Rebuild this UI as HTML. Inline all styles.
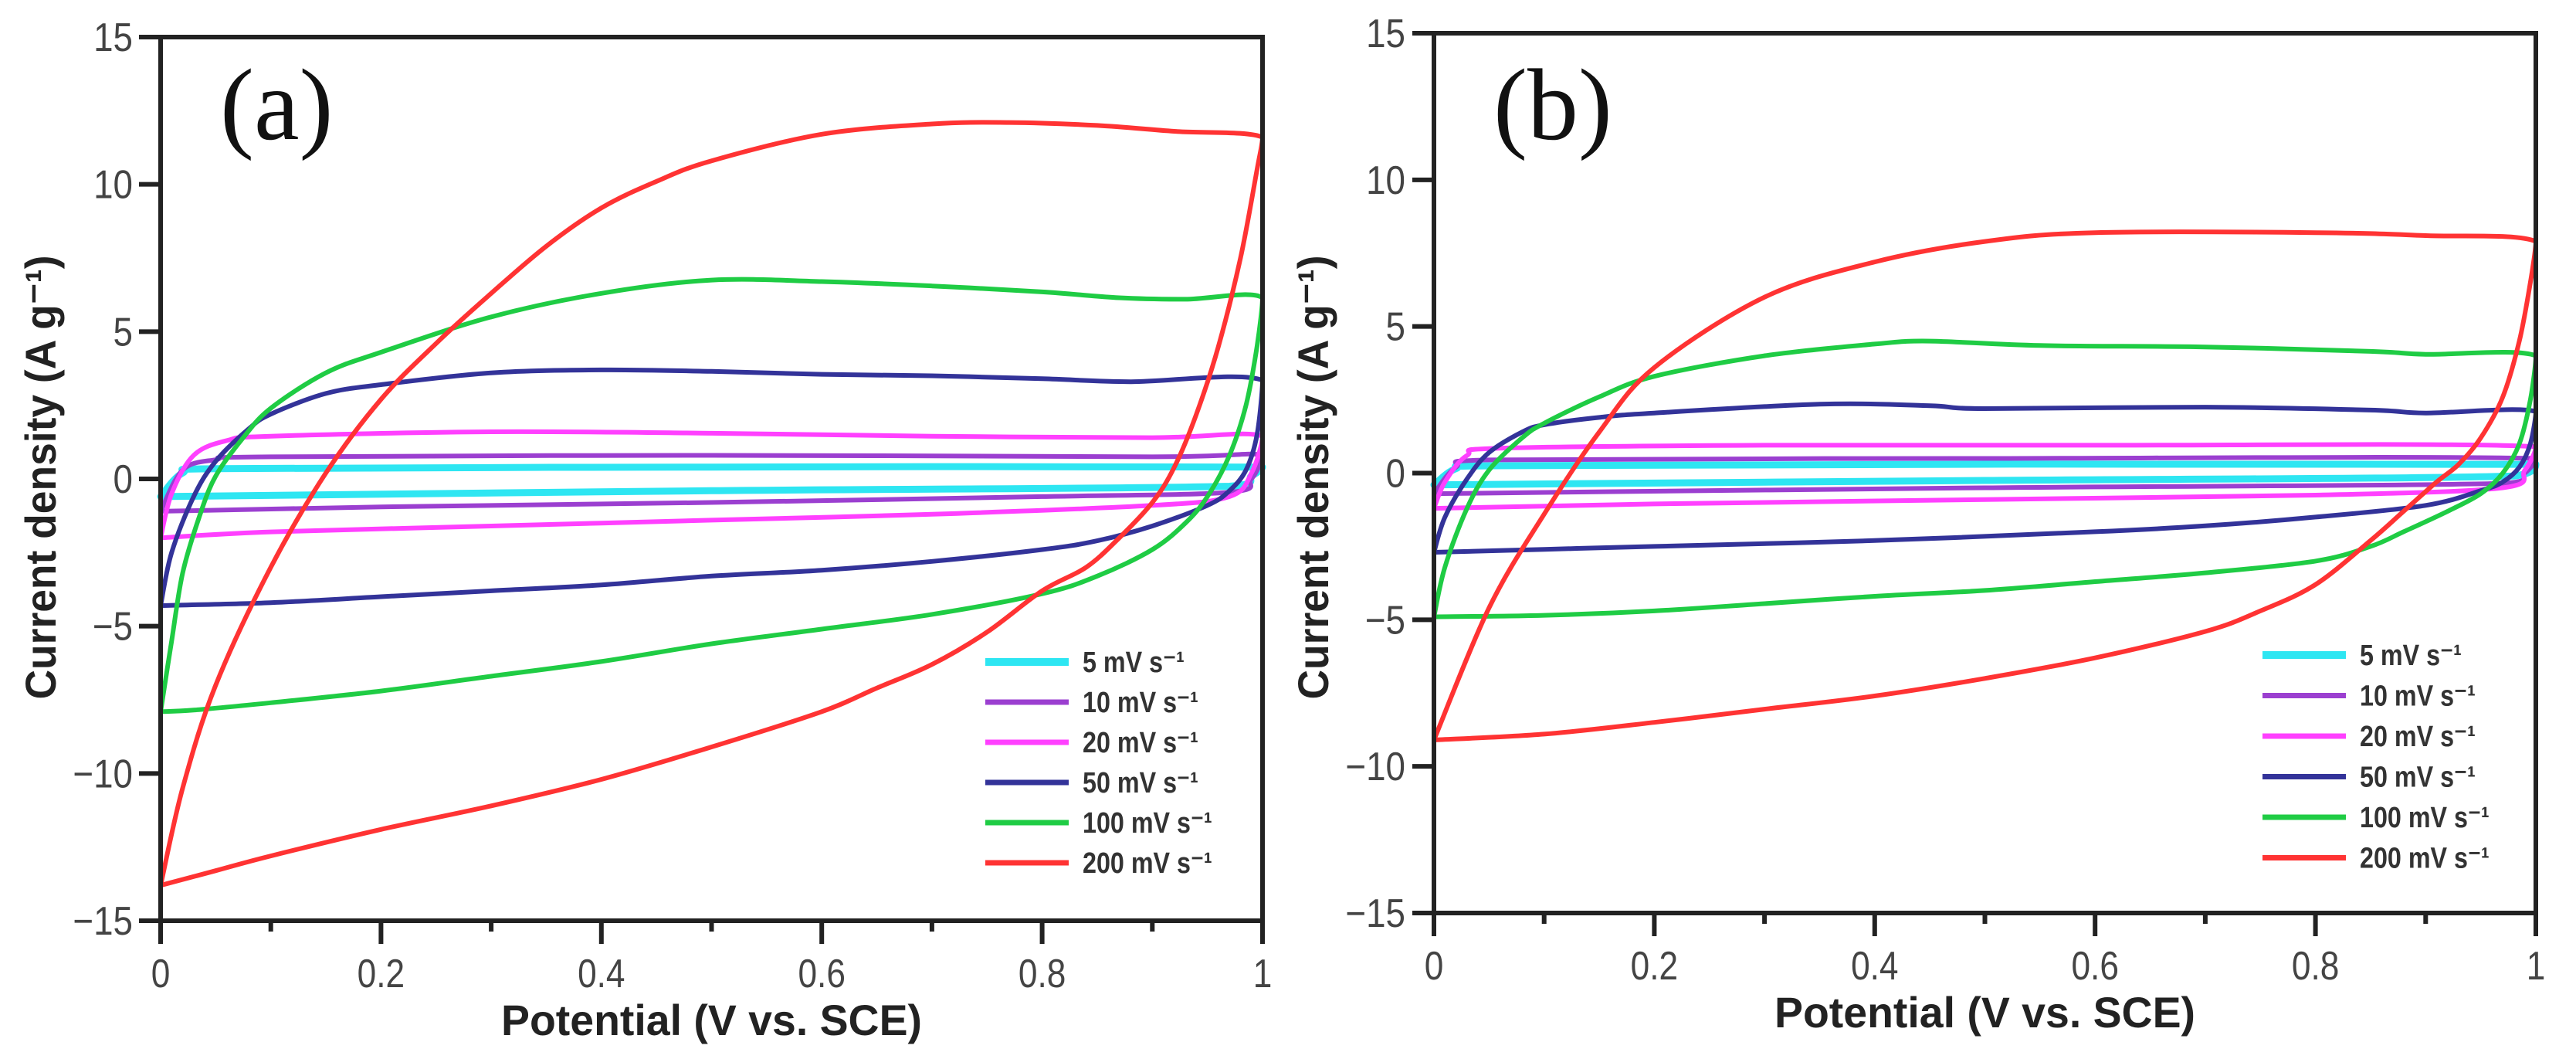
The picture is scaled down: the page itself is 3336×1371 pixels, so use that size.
<!DOCTYPE html>
<html><head><meta charset="utf-8"><style>
html,body{margin:0;padding:0;background:#fff;}
svg{display:block;}
text{font-family:"Liberation Sans",Arial,sans-serif;}
text.serif{font-family:"Liberation Serif","Times New Roman",serif;}
</style></head><body>
<svg id="fig" width="3336" height="1371" viewBox="0 0 3336 1371" xmlns="http://www.w3.org/2000/svg"></svg>
<script>
// ---- data (potential V, current density A/g) ----
const xTicks=[0,0.2,0.4,0.6,0.8,1];
const xTickLabels=["0","0.2","0.4","0.6","0.8","1"];
const yTicks=[15,10,5,0,-5,-10,-15];
const yTickLabels=["15","10","5","0","\u22125","\u221210","\u221215"];
const seriesNames=["5 mV s\u207B\u00B9","10 mV s\u207B\u00B9","20 mV s\u207B\u00B9","50 mV s\u207B\u00B9","100 mV s\u207B\u00B9","200 mV s\u207B\u00B9"];
// panel a
const a5Up=[[0,-0.6],[0.02,0.2],[0.05,0.35],[0.5,0.4],[1,0.4]];
const a5Dn=[[1,0.4],[0.99,0.1],[0.97,-0.25],[0.5,-0.4],[0,-0.6]];
const a10Up=[[0,-1.1],[0.02,0.3],[0.05,0.65],[0.1,0.75],[0.5,0.8],[0.9,0.75],[1,0.8]];
const a10Dn=[[1,0.8],[0.99,0],[0.97,-0.45],[0.8,-0.6],[0.5,-0.8],[0.2,-0.95],[0,-1.1]];
const a20Up=[[0,-2.0],[0.01,-0.5],[0.03,0.8],[0.06,1.3],[0.1,1.45],[0.3,1.6],[0.5,1.55],[0.7,1.45],[0.9,1.4],[1,1.45]];
const a20Dn=[[1,1.45],[0.99,0.2],[0.97,-0.6],[0.9,-0.9],[0.7,-1.2],[0.5,-1.4],[0.3,-1.6],[0.1,-1.8],[0,-2.0]];
const a50Up=[[0,-4.3],[0.01,-2.5],[0.03,-0.6],[0.05,0.6],[0.08,1.7],[0.1,2.2],[0.15,2.9],[0.2,3.2],[0.3,3.6],[0.4,3.7],[0.5,3.65],[0.6,3.55],[0.7,3.5],[0.8,3.4],[0.88,3.3],[1,3.35]];
const a50Dn=[[1,3.35],[0.995,1.5],[0.985,0.3],[0.97,-0.4],[0.95,-0.9],[0.9,-1.6],[0.85,-2.1],[0.8,-2.4],[0.7,-2.8],[0.6,-3.1],[0.5,-3.3],[0.4,-3.6],[0.3,-3.8],[0.2,-4.0],[0.1,-4.2],[0,-4.3]];
const a100Up=[[0,-7.9],[0.01,-5.5],[0.02,-3.2],[0.035,-1.3],[0.05,0.1],[0.075,1.4],[0.1,2.4],[0.15,3.6],[0.2,4.3],[0.3,5.5],[0.4,6.3],[0.5,6.75],[0.6,6.7],[0.7,6.55],[0.8,6.35],[0.87,6.15],[0.93,6.1],[1,6.15]];
const a100Dn=[[1,6.15],[0.995,4.5],[0.985,2.5],[0.97,0.8],[0.95,-0.6],[0.93,-1.5],[0.9,-2.4],[0.85,-3.3],[0.8,-3.9],[0.7,-4.6],[0.6,-5.1],[0.5,-5.6],[0.4,-6.2],[0.3,-6.7],[0.2,-7.2],[0.1,-7.6],[0.03,-7.85],[0,-7.9]];
const a200Up=[[0,-13.8],[0.02,-10.5],[0.05,-7],[0.1,-3],[0.15,0.2],[0.2,2.7],[0.25,4.6],[0.3,6.3],[0.35,7.9],[0.4,9.2],[0.45,10.1],[0.5,10.8],[0.6,11.7],[0.7,12.05],[0.77,12.1],[0.85,12.0],[0.92,11.8],[1,11.6]];
const a200Dn=[[1,11.6],[0.995,10.5],[0.98,7.5],[0.96,4.5],[0.94,2.2],[0.92,0.4],[0.9,-0.8],[0.87,-2.0],[0.84,-3.0],[0.8,-3.8],[0.75,-5.2],[0.7,-6.3],[0.65,-7.1],[0.6,-7.9],[0.5,-9.1],[0.4,-10.2],[0.3,-11.1],[0.2,-11.9],[0.1,-12.8],[0.05,-13.3],[0,-13.8]];
// panel b
const b5Up=[[0,-0.4],[0.02,0.15],[0.05,0.25],[1,0.3]];
const b5Dn=[[1,0.3],[0.98,-0.1],[0.5,-0.25],[0,-0.4]];
const b10Up=[[0,-0.7],[0.02,0.2],[0.05,0.45],[0.5,0.5],[1,0.5]];
const b10Dn=[[1,0.5],[0.99,0],[0.97,-0.35],[0.5,-0.5],[0,-0.7]];
const b20Up=[[0,-1.2],[0.01,-0.3],[0.03,0.6],[0.06,0.85],[0.3,0.95],[0.6,0.95],[1,0.9]];
const b20Dn=[[1,0.9],[0.99,0.1],[0.97,-0.5],[0.8,-0.75],[0.5,-0.9],[0.2,-1.05],[0,-1.2]];
const b50Up=[[0,-2.7],[0.01,-1.5],[0.03,-0.2],[0.05,0.7],[0.08,1.4],[0.1,1.65],[0.15,1.9],[0.2,2.05],[0.35,2.35],[0.45,2.3],[0.5,2.2],[0.7,2.25],[0.85,2.15],[0.9,2.05],[1,2.1]];
const b50Dn=[[1,2.1],[0.995,1.0],[0.985,0.2],[0.97,-0.3],[0.95,-0.6],[0.9,-1.1],[0.8,-1.5],[0.7,-1.8],[0.6,-2.0],[0.4,-2.3],[0.2,-2.5],[0.1,-2.6],[0,-2.7]];
const b100Up=[[0,-4.9],[0.01,-3.2],[0.03,-1.2],[0.05,0.1],[0.08,1.2],[0.1,1.7],[0.15,2.6],[0.2,3.3],[0.3,4.0],[0.4,4.4],[0.45,4.5],[0.55,4.35],[0.7,4.3],[0.85,4.15],[0.9,4.05],[1,4.0]];
const b100Dn=[[1,4.0],[0.995,2.5],[0.985,1.0],[0.97,0],[0.95,-0.7],[0.92,-1.3],[0.88,-2.0],[0.85,-2.5],[0.8,-3.0],[0.7,-3.4],[0.6,-3.7],[0.5,-4.0],[0.4,-4.2],[0.3,-4.45],[0.2,-4.7],[0.1,-4.85],[0,-4.9]];
const b200Up=[[0,-9.1],[0.05,-4.6],[0.1,-1.4],[0.15,1.4],[0.2,3.6],[0.3,6.0],[0.4,7.2],[0.5,7.9],[0.6,8.2],[0.8,8.2],[0.9,8.1],[1,7.9]];
const b200Dn=[[1,7.9],[0.995,6.5],[0.985,4.5],[0.97,2.6],[0.95,1.2],[0.93,0.3],[0.91,-0.3],[0.88,-1.3],[0.85,-2.3],[0.8,-3.8],[0.75,-4.7],[0.7,-5.4],[0.6,-6.3],[0.5,-7.0],[0.4,-7.6],[0.3,-8.05],[0.2,-8.5],[0.1,-8.9],[0,-9.1]];

const colors=["#2ee6f2","#9b3fd0","#ff40ff","#333399","#1fcc44","#ff3333"];
const widths=[9,6,6,6,6,6];
const NS="http://www.w3.org/2000/svg";
const svg=document.getElementById('fig');
function mk(tag,attrs,parent){const e=document.createElementNS(NS,tag);for(const k in attrs)e.setAttribute(k,attrs[k]);(parent||svg).appendChild(e);return e;}
function smooth(pts,xmin,xmax){
 const cl=v=>Math.max(xmin,Math.min(xmax,v));
 let d="M"+pts[0][0].toFixed(1)+","+pts[0][1].toFixed(1);
 for(let i=0;i<pts.length-1;i++){const p0=pts[Math.max(0,i-1)],p1=pts[i],p2=pts[i+1],p3=pts[Math.min(pts.length-1,i+2)];
  const c1=[cl(p1[0]+(p2[0]-p0[0])/6),p1[1]+(p2[1]-p0[1])/6],c2=[cl(p2[0]-(p3[0]-p1[0])/6),p2[1]-(p3[1]-p1[1])/6];
  d+="C"+c1[0].toFixed(1)+","+c1[1].toFixed(1)+" "+c2[0].toFixed(1)+","+c2[1].toFixed(1)+" "+p2[0].toFixed(1)+","+p2[1].toFixed(1);}
 return d;}

function panel(cfg){
 const {L,R,T,B,id,series,label,labelX,ytitleX,legX,legY,legStep,ytickR}=cfg;
 const g=mk('g',{});
 
 
 const sx=v=>L+(v-0)/(1-0)*(R-L);
 const sy=v=>B-(v+15)/30*(B-T);
 series.forEach((s,i)=>{
  const pts=s[0].concat(s[1].slice(1)).map(p=>[sx(p[0]),sy(p[1])]);
  const p=mk('path',{d:smooth(pts,L,R),fill:'none',stroke:colors[i],'stroke-width':widths[i],'stroke-linejoin':'round','stroke-linecap':'round'},g);
  
  
 });
 const fr=mk('rect',{x:L,y:T,width:R-L,height:B-T,fill:'none',stroke:'#222','stroke-width':6},g);
 
 
 for(let k=0;k<=10;k++){const v=k/10,x=sx(v),maj=k%2===0;
  const t=mk('line',{x1:x,x2:x,y1:B,y2:B+(maj?30:14),stroke:'#222','stroke-width':6},g);
  
  }
 xTicks.forEach((v,i)=>{const t=mk('text',{x:sx(v),y:B+86,'text-anchor':'middle','font-size':52,fill:'#444',transform:`translate(${sx(v)},0) scale(0.85,1) translate(${-sx(v)},0)`},g);
  t.textContent=xTickLabels[i];
  
  });
 yTicks.forEach((v,i)=>{const y=sy(v);
  const tk=mk('line',{x1:L-28,x2:L,y1:y,y2:y,stroke:'#222','stroke-width':6},g);
  
  
  const t=mk('text',{x:ytickR,y:y+18,'text-anchor':'end','font-size':52,fill:'#444',transform:`translate(${ytickR},0) scale(0.88,1) translate(${-ytickR},0)`},g);
  t.textContent=yTickLabels[i];
  
  });
 const xt=mk('text',{x:(L+R)/2,y:B+148,'text-anchor':'middle','font-size':56,'font-weight':'bold',fill:'#222',textLength:545,lengthAdjust:'spacingAndGlyphs'},g);
 xt.textContent="Potential (V vs. SCE)";
 
 
 const yc=618;
 const yt=mk('text',{x:ytitleX,y:yc,'text-anchor':'middle','font-size':56,'font-weight':'bold',fill:'#222',transform:`rotate(-90 ${ytitleX} ${yc})`,textLength:575,lengthAdjust:'spacingAndGlyphs'},g);
 yt.textContent="Current density (A g\u207B\u00B9)";
 
 
 const pl=mk('text',{x:labelX,y:180,'font-size':132,'class':'serif',fill:'#111'},g);
 pl.textContent=label;
 
 
 seriesNames.forEach((n,i)=>{const y=legY+i*legStep;
  const ln=mk('line',{x1:legX,x2:legX+108,y1:y,y2:y,stroke:colors[i],'stroke-width':i===0?10:7},g);
  
  
  const t=mk('text',{x:legX+126,y:y+13,'font-size':38,'font-weight':'bold',fill:'#333',transform:`translate(${legX+126},0) scale(0.85,1) translate(${-(legX+126)},0)`},g);
  t.textContent=n;
  
  });
}
panel({id:'a',L:208,R:1635,T:48,B:1192,label:'(a)',labelX:285,ytitleX:72,legX:1276,legY:857,legStep:52,ytickR:172,
 series:[[a5Up,a5Dn],[a10Up,a10Dn],[a20Up,a20Dn],[a50Up,a50Dn],[a100Up,a100Dn],[a200Up,a200Dn]]});
panel({id:'b',L:1857,R:3284,T:43,B:1182,label:'(b)',labelX:1934,ytitleX:1720,legX:2930,legY:848,legStep:52.5,ytickR:1820,
 series:[[b5Up,b5Dn],[b10Up,b10Dn],[b20Up,b20Dn],[b50Up,b50Dn],[b100Up,b100Dn],[b200Up,b200Dn]]});
</script>
</body></html>
